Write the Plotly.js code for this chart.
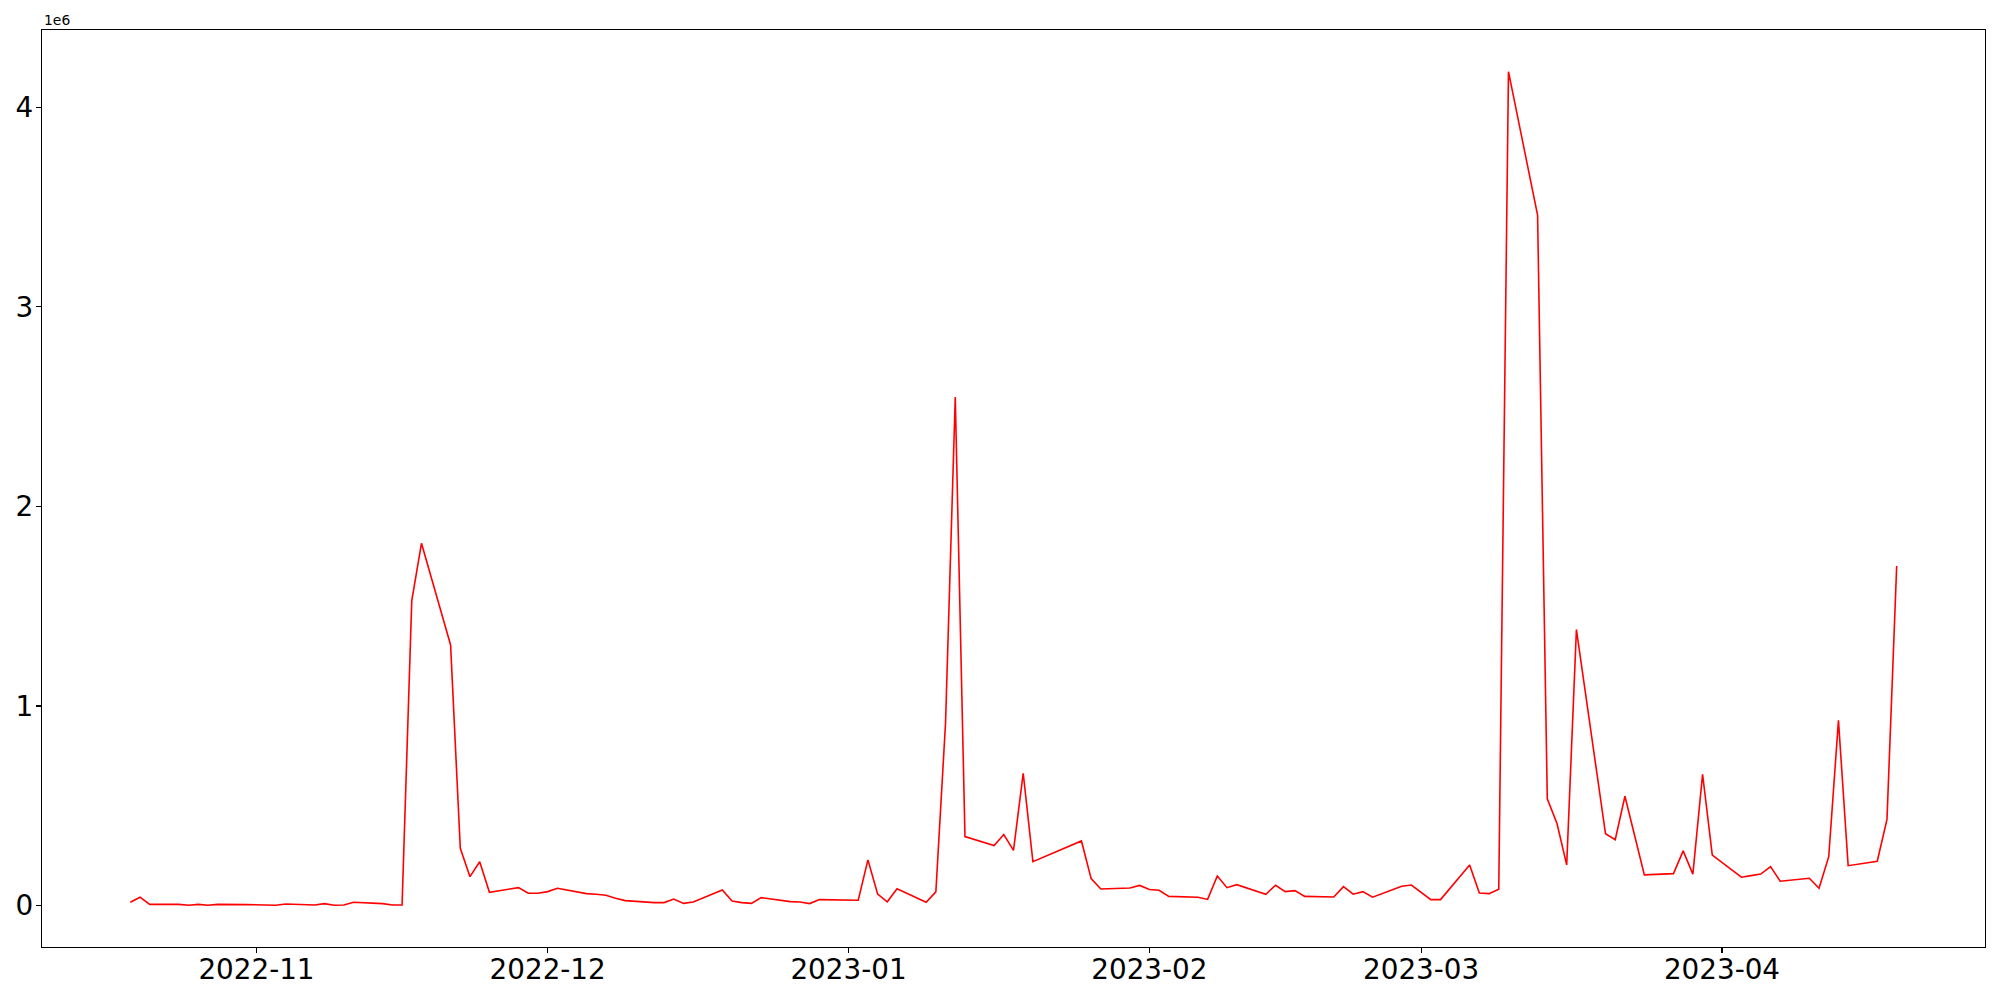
<!DOCTYPE html>
<html>
<head>
<meta charset="utf-8">
<script src="https://cdn.plot.ly/plotly-3.0.1.min.js"></script>
<style>html,body{margin:0;padding:0;background:#fff;}#chart{width:2000px;height:1000px;}</style>
</head>
<body>
<div id="chart"></div>
<script>
const dates = [
"2022-10-19","2022-10-20","2022-10-21","2022-10-24","2022-10-25","2022-10-26","2022-10-27","2022-10-28",
"2022-10-31","2022-11-01","2022-11-02","2022-11-03","2022-11-04","2022-11-07","2022-11-08","2022-11-09",
"2022-11-10","2022-11-11","2022-11-14","2022-11-15","2022-11-16","2022-11-17","2022-11-18","2022-11-21",
"2022-11-22","2022-11-23","2022-11-24","2022-11-25","2022-11-28","2022-11-29","2022-11-30","2022-12-01",
"2022-12-02","2022-12-05","2022-12-06","2022-12-07","2022-12-08","2022-12-09","2022-12-12","2022-12-13",
"2022-12-14","2022-12-15","2022-12-16","2022-12-19","2022-12-20","2022-12-21","2022-12-22","2022-12-23",
"2022-12-26","2022-12-27","2022-12-28","2022-12-29","2023-01-02","2023-01-03","2023-01-04","2023-01-05",
"2023-01-06","2023-01-09","2023-01-10","2023-01-11","2023-01-12","2023-01-13","2023-01-16","2023-01-17",
"2023-01-18","2023-01-19","2023-01-20","2023-01-25","2023-01-26","2023-01-27","2023-01-30","2023-01-31",
"2023-02-01","2023-02-02","2023-02-03","2023-02-06","2023-02-07","2023-02-08","2023-02-09","2023-02-10",
"2023-02-13","2023-02-14","2023-02-15","2023-02-16","2023-02-17","2023-02-20","2023-02-21","2023-02-22",
"2023-02-23","2023-02-24","2023-02-27","2023-02-28","2023-03-02","2023-03-03","2023-03-06","2023-03-07",
"2023-03-08","2023-03-09","2023-03-10","2023-03-13","2023-03-14","2023-03-15","2023-03-16","2023-03-17",
"2023-03-20","2023-03-21","2023-03-22","2023-03-23","2023-03-24","2023-03-27","2023-03-28","2023-03-29",
"2023-03-30","2023-03-31","2023-04-03","2023-04-04","2023-04-05","2023-04-06","2023-04-07","2023-04-10",
"2023-04-11","2023-04-12","2023-04-13","2023-04-14","2023-04-17","2023-04-18","2023-04-19"
];
const values = [
17000,42000,6000,6000,2000,6000,2000,6000,
5000,5000,3000,2000,8000,3000,10000,2000,
3000,17000,10000,3000,3000,1528000,1815000,1306000,
287000,145000,220000,67000,90000,62000,62000,70000,
87000,60000,57000,52000,37000,25000,15000,15000,
33000,11000,18000,78000,23000,15000,11000,40000,
20000,18000,10000,30000,27000,229000,58000,19000,
84000,17000,69000,917000,2548000,346000,301000,356000,
277000,663000,220000,324000,135000,83000,88000,101000,
81000,77000,46000,42000,31000,148000,90000,105000,
57000,102000,70000,75000,46000,43000,95000,57000,
70000,42000,97000,103000,30000,30000,203000,63000,
60000,82000,4178000,3459000,535000,411000,204000,1383000,
360000,330000,548000,350000,154000,160000,274000,158000,
658000,253000,142000,150000,158000,195000,122000,137000,
87000,245000,928000,200000,222000,432000,1701000
];
const yTickVals = [0,1000000,2000000,3000000,4000000];
const yTickText = ["0","1","2","3","4"];
const xTickVals = ["2022-11-01","2022-12-01","2023-01-01","2023-02-01","2023-03-01","2023-04-01"];
const xTickText = ["2022-11","2022-12","2023-01","2023-02","2023-03","2023-04"];

const trace = {
  x: dates, y: values, type: "scatter", mode: "lines",
  line: {color: "#ff0000", width: 1.6},
  hoverinfo: "x+y"
};

const axisCommon = {
  showgrid: false, zeroline: false, showline: true, mirror: true,
  linecolor: "#000", linewidth: 1.2, ticks: "outside", ticklen: 5,
  tickwidth: 1.2, tickcolor: "#000",
  tickfont: {family: "DejaVu Sans", size: 27.8, color: "#000"}
};

const layout = {
  width: 2000, height: 1000,
  margin: {l: 42, r: 15, t: 30, b: 53, pad: 0},
  paper_bgcolor: "#fff", plot_bgcolor: "#fff",
  showlegend: false,
  xaxis: Object.assign({}, axisCommon, {
    type: "date",
    range: ["2022-10-09 21:36", "2023-04-28 02:24"],
    tickmode: "array", tickvals: xTickVals, ticktext: xTickText,
    ticklabelstandoff: -8
  }),
  yaxis: Object.assign({}, axisCommon, {
    range: [-207400, 4386900],
    tickmode: "array", tickvals: yTickVals, ticktext: yTickText,
    ticklabelstandoff: -3
  }),
  annotations: [{
    text: "1e6", xref: "paper", yref: "paper", x: 0, y: 1,
    xanchor: "left", yanchor: "bottom", showarrow: false, xshift: 0, yshift: 0,
    font: {family: "DejaVu Sans", size: 13.9, color: "#000"}
  }]
};

Plotly.newPlot("chart", [trace], layout, {displayModeBar: false, staticPlot: true});
</script>
</body>
</html>
